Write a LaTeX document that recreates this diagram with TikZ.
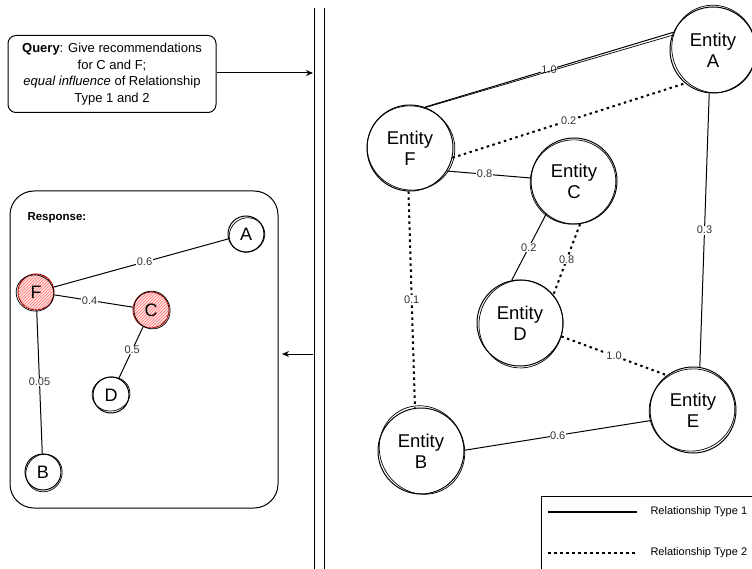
\documentclass[tikz,border=0pt]{standalone}
\usepackage{fontspec}
\setmainfont{Liberation Sans}
\usetikzlibrary{arrows.meta,patterns}
\begin{document}
\begin{tikzpicture}[x=1pt,y=-1pt,
  ent/.style={circle,draw,line width=1pt,minimum size=86pt,inner sep=0pt,align=center,font=\fontsize{18.5}{21}\selectfont},
  rnode/.style={circle,draw,line width=1pt,minimum size=36pt,inner sep=0pt,font=\fontsize{18}{20}\selectfont},
  hl/.style={draw=red!60!black,fill=red!12,postaction={pattern=north east lines,pattern color=red!55}},
  solidrel/.style={line width=1pt},
  dotrel/.style={line width=2pt,dash pattern=on 2.5pt off 3.5pt},
  lbl/.style={fill=white,inner sep=0.5pt,font=\fontsize{11}{12}\selectfont,text=black!80},
  arr/.style={line width=1pt,-{Stealth[length=7pt,width=6pt,open]}}
]
\useasboundingbox (0,0) rectangle (752,569);

% query box
\node[draw,line width=1pt,rounded corners=8pt,minimum width=208pt,minimum height=77pt,align=center,
  font=\fontsize{13}{16.5}\selectfont] (q) at (112,74)
  {\textbf{Query}: Give recommendations\\for C and F;\\\textit{equal influence} of Relationship\\Type 1 and 2};

% divider
\draw[line width=1pt] (314,8) -- (314,569);
\draw[line width=1pt] (324,8) -- (324,569);
\coordinate (divL) at (313,73);
\coordinate (divL2) at (313,354);
\coordinate (retEnd) at (282,354);
\draw[arr] (q.east |- divL) -- (divL);
\draw[arr] (divL2) -- (retEnd);

% response box
\node[draw,line width=1pt,rounded corners=24pt,minimum width=268pt,minimum height=317pt] (resp) at (144,349.5) {};
\node[font=\bfseries\fontsize{11.5}{13}\selectfont,anchor=west] (resptitle) at (24,218) {Response:};

\node[rnode] (rA) at (246,234) {A};
\node[rnode,hl] (rF) at (36,292) {F};
\node[rnode,hl] (rC) at (151,310) {C};
\node[rnode] (rD) at (111,395) {D};
\node[rnode] (rB) at (43,472) {B};
\draw[solidrel] (rF) -- node[lbl,pos=0.52]{0.6} (rA);
\draw[solidrel] (rF) -- node[lbl,pos=0.45]{0.4} (rC);
\draw[solidrel] (rC) -- node[lbl,pos=0.45]{0.5} (rD);
\draw[solidrel] (rF) -- node[lbl,pos=0.5]{0.05} (rB);

% main graph
\node[ent] (A) at (713,50) {Entity\\A};
\node[ent] (F) at (410,148) {Entity\\F};
\node[ent] (C) at (574,181) {Entity\\C};
\node[ent] (D) at (520,323) {Entity\\D};
\node[ent] (E) at (693,410) {Entity\\E};
\node[ent] (B) at (421,451) {Entity\\B};

% sketchy second outlines
\foreach \n/\dx/\dy/\rx/\ry/\rot in {A/1/-1/42/44/20, F/1/0/44/42/-15, C/-1/1/43/42/25, D/1/1/42/44/-10, E/-1/0/43/41/15, B/1/-1/42/45/30}{
  \draw[line width=0.7pt] ([shift={(\dx,\dy)}]\n.center) ellipse[x radius=\rx, y radius=\ry, rotate=\rot];
}
\foreach \n/\dx/\dy/\rx/\ry/\rot in {rA/1/1/18/17/30, rF/-1/1/19/18/-20, rC/1/0/18/19/20, rD/0/-1/19/17/10, rB/1/1/18/19/-25}{
  \draw[line width=0.7pt] ([shift={(\dx,\dy)}]\n.center) ellipse[x radius=\rx, y radius=\ry, rotate=\rot];
}

\draw[solidrel] (F.70) -- node[lbl]{1.0} (A.156);
\draw[line width=0.7pt] ([yshift=-1.5]F.72) -- ([yshift=-1.5]A.158);
\draw[dotrel] (F.-13) -- node[lbl]{0.2} (A.230);
\draw[solidrel] (F.-32) -- node[lbl,pos=0.45]{0.8} (C.176);
\draw[solidrel] (C.230) -- node[lbl]{0.2} (D.101);
\draw[dotrel] (C.278) -- node[lbl]{0.8} (D.40);
\draw[dotrel] (F.268) -- node[lbl]{0.1} (B.98);
\draw[solidrel] (A.265) -- node[lbl]{0.3} (E.81);
\draw[dotrel] (D.-18) -- node[lbl]{1.0} (E.127);
\draw[solidrel] (B.1) -- node[lbl]{0.6} (E.194);

% legend
\node[draw,line width=0.7pt,anchor=north west,minimum width=240pt,minimum height=100pt] (leg) at (541,496) {};
\coordinate (l1a) at (548,512); \coordinate (l1b) at (637,512);
\coordinate (l2a) at (548,553); \coordinate (l2b) at (637,553);
\draw[line width=1.2pt] (l1a) -- (l1b);
\draw[dotrel] (l2a) -- (l2b);
\node[anchor=west,font=\fontsize{11}{12}\selectfont] (lt1) at (647,512) {Relationship Type 1};
\node[anchor=west,font=\fontsize{11}{12}\selectfont] (lt2) at (647,553) {Relationship Type 2};
\end{tikzpicture}
\end{document}
